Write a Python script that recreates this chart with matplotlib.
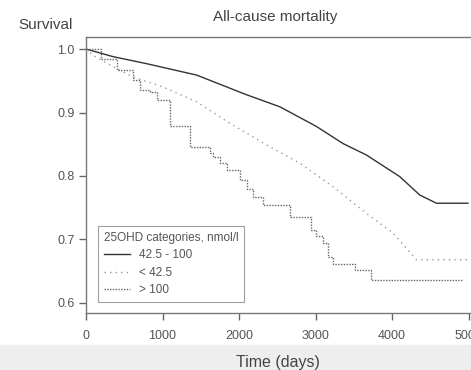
import matplotlib
matplotlib.use("Agg")
import matplotlib.pyplot as plt
from matplotlib.patches import Rectangle

plt.rcParams['font.family'] = ['Liberation Sans', 'DejaVu Sans']

# 42.5 - 100 nmol/l
t_mid = [0, 355, 790, 1445, 2097, 2533, 3011, 3359, 3664, 4099, 4360, 4578, 4990]
s_mid = [1.0, 0.988, 0.977, 0.959, 0.928, 0.909, 0.878, 0.851, 0.833, 0.799, 0.770, 0.757, 0.757]

# < 42.5 nmol/l
t_low = [0, 96, 357, 617, 1010, 1445, 1880, 2358, 2794, 3228, 3664, 4012, 4317, 4990]
s_low = [1.0, 0.99, 0.972, 0.956, 0.94, 0.917, 0.883, 0.849, 0.82, 0.783, 0.741, 0.71, 0.668, 0.668]

# > 100 nmol/l (step curve)
t_high = [0, 200, 400, 615, 700, 835, 922, 1097, 1358, 1619, 1662, 1750, 1836, 2010,
          2100, 2184, 2314, 2663, 2945, 3011, 3098, 3163, 3228, 3511, 3729, 4922]
s_high = [1.0, 0.985, 0.967, 0.951, 0.935, 0.933, 0.92, 0.878, 0.846, 0.836, 0.83, 0.82,
          0.81, 0.794, 0.78, 0.767, 0.754, 0.736, 0.715, 0.705, 0.694, 0.673, 0.662,
          0.652, 0.636, 0.636]

xticks = [0, 1000, 2000, 3000, 4000, 5000]
yticks = [0.6, 0.7, 0.8, 0.9, 1.0]

fig = plt.figure(figsize=(4.71, 3.70), dpi=100)
fig.patches.append(Rectangle((0, 0), 1, 25 / 370, transform=fig.transFigure,
                             color='#eeeeee', zorder=-5))
ax = fig.add_axes([86 / 471, 57 / 370, 398 / 471, 276 / 370])
ax.set_zorder(1)
ax.patch.set_alpha(0)

ax.plot(t_mid, s_mid, color='#333333', lw=1.0, label='42.5 - 100')
ax.plot(t_low, s_low, color='#999999', lw=1.0, linestyle=(0, (1, 3)), label='< 42.5')
ax.plot(t_high, s_high, color='#666666', lw=1.0, linestyle=(0, (1, 1)),
        drawstyle='steps-post', label='> 100')

ax.set_xlim(0, 5200)
ax.set_ylim(0.584, 1.019)
ax.set_xticks(xticks)
ax.set_yticks(yticks)
ax.set_yticklabels(['0.6', '0.7', '0.8', '0.9', '1.0'])
ax.tick_params(labelsize=9, labelcolor='#555555', color='#666666',
               length=5, width=1.0, pad=7)
ax.tick_params(axis='y', pad=3)
for sp in ax.spines.values():
    sp.set_color('#777777')
    sp.set_linewidth(1.0)

ax.set_xlabel('Time (days)', fontsize=11.5, color='#444444')
ax.xaxis.set_label_coords((278 - 86) / 398, -(362 - 313) / 276)
ax.xaxis.label.set_va('center')
fig.text(18 / 471, 1 - 25 / 370, 'Survival', fontsize=11, color='#444444',
         ha='left', va='center')
fig.text(275 / 471, 1 - 17 / 370, 'All-cause mortality', fontsize=11,
         color='#444444', ha='center', va='center')

leg = ax.legend(title='25OHD categories, nmol/l', loc='lower left',
                bbox_to_anchor=(12 / 398, 11 / 276), fontsize=8.5,
                title_fontsize=8.5, frameon=True, fancybox=False,
                handlelength=2.2, handletextpad=0.8, borderpad=0.5,
                labelspacing=0.45, borderaxespad=0, alignment='left')
leg.get_frame().set_edgecolor('#888888')
leg.get_frame().set_linewidth(0.8)
for txt in leg.get_texts():
    txt.set_color('#555555')
leg.get_title().set_color('#555555')

fig.savefig('out.png', dpi=100)
